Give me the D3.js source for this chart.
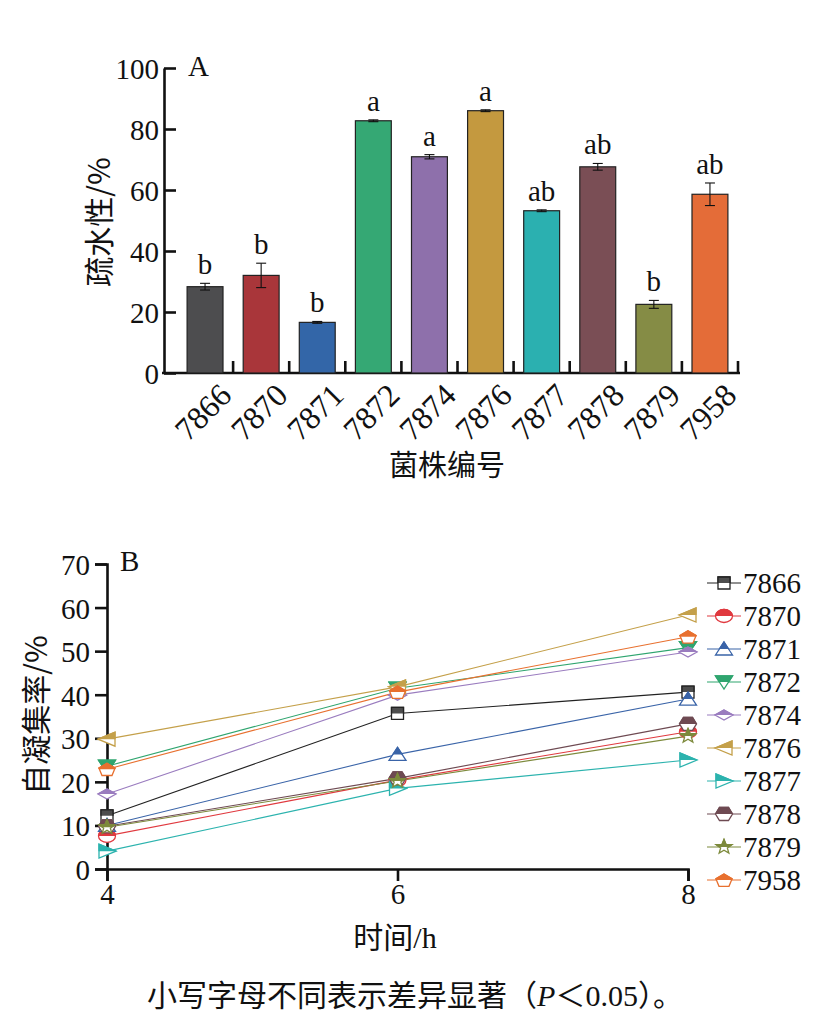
<!DOCTYPE html>
<html lang="zh">
<head>
<meta charset="UTF-8">
<title>疏水性与自凝集率</title>
<script src="https://d3js.org/d3.v7.min.js"></script>
<style>
  body { margin: 0; background: #fff; }
  svg text { font-family: "Liberation Serif", "Noto Sans CJK SC", serif; fill: #111; }
  .cjk { font-family: "Noto Sans CJK SC", sans-serif; }
  .axis path, .axis line { stroke: #111; stroke-width: 2.6; }
  .axis text { font-size: 29px; }
</style>
</head>
<body>
<svg id="chart" width="821" height="1023"></svg>
<script>
// ---- data ----
const strains = ["7866", "7870", "7871", "7872", "7874", "7876", "7877", "7878", "7879", "7958"];
const hydroMean = [28.3, 32.0, 16.6, 82.7, 70.9, 86.0, 53.2, 67.6, 22.5, 58.6];
const hydroErr = [1.1, 4.0, 0.3, 0.3, 0.7, 0.3, 0.3, 1.1, 1.3, 3.7];
const hydroLetters = ["b", "b", "b", "a", "a", "a", "ab", "ab", "b", "ab"];
const hydroTicks = [0, 20, 40, 60, 80, 100];

const hours = [4, 6, 8];
const agg7866 = [12.2, 35.7, 40.6];
const agg7870 = [7.6, 20.4, 31.5];
const agg7871 = [10.0, 26.3, 39.0];
const agg7872 = [23.6, 41.5, 50.8];
const agg7874 = [17.2, 39.9, 49.8];
const agg7876 = [29.8, 41.8, 58.3];
const agg7877 = [4.1, 18.5, 25.0];
const agg7878 = [9.8, 20.8, 33.3];
const agg7879 = [9.6, 20.2, 30.5];
const agg7958 = [22.9, 40.6, 53.3];
const aggTicks = [0, 10, 20, 30, 40, 50, 60, 70];

const aggSeries = [agg7866, agg7870, agg7871, agg7872, agg7874, agg7876, agg7877, agg7878, agg7879, agg7958];

// colours
const barColors = ["#4d4d4f", "#a9363a", "#3366a8", "#35a874", "#8e70ab", "#c4993f", "#2bb0b0", "#7a4e55", "#858c45", "#e46c38"];
const lineColors = ["#222222", "#e0393f", "#3a64a8", "#2fa56f", "#9a7cbf", "#c4a04a", "#2cb3ae", "#6e4a52", "#7d8a3c", "#e8702f"];
const markerFill = ["#4d4d4d", "#e0393f", "#3a64a8", "#2fa56f", "#9a7cbf", "#c4a04a", "#2cb3ae", "#6e4a52", "#7d8a3c", "#e8702f"];

// marker shapes (half width ~8, half height ~6)
function polygon(pts) { return "M" + pts.map(p => p.join(",")).join("L") + "Z"; }
function starPath() {
  const pts = [];
  for (let i = 0; i < 10; i++) {
    const a = -Math.PI / 2 + i * Math.PI / 5;
    const r = i % 2 === 0 ? 7.5 : 3.2;
    pts.push([r * Math.cos(a) * 1.1, r * Math.sin(a)]);
  }
  return polygon(pts);
}
function pentagonPath() {
  const pts = [];
  for (let i = 0; i < 5; i++) {
    const a = -Math.PI / 2 + i * 2 * Math.PI / 5;
    pts.push([8.5 * Math.cos(a), 6.8 * Math.sin(a) + 0.8]);
  }
  return polygon(pts);
}
const shapes = [
  polygon([[-6, -6], [6, -6], [6, 6], [-6, 6]]),
  "M-8.5,0A8.5,6.5 0 1,1 8.5,0A8.5,6.5 0 1,1 -8.5,0Z",
  polygon([[0, -7], [8.5, 6], [-8.5, 6]]),
  polygon([[-8.5, -6], [8.5, -6], [0, 7]]),
  polygon([[0, -5], [9, 0], [0, 5], [-9, 0]]),
  polygon([[-9, 0], [8, -7], [8, 7]]),
  polygon([[9, 0], [-8, -7], [-8, 7]]),
  polygon([[-8.5, 0], [-4.5, -6.5], [4.5, -6.5], [8.5, 0], [4.5, 6.5], [-4.5, 6.5]]),
  starPath(),
  pentagonPath()
];

const svg = d3.select("#chart");
svg.append("defs").append("clipPath").attr("id", "tophalf")
  .append("rect").attr("x", -20).attr("y", -20).attr("width", 40).attr("height", 20);

function drawMarker(g, i) {
  g.append("path").attr("d", shapes[i]).attr("fill", "#fff")
    .attr("stroke", lineColors[i]).attr("stroke-width", 1.3);
  g.append("path").attr("d", shapes[i]).attr("fill", markerFill[i])
    .attr("stroke", lineColors[i]).attr("stroke-width", 1.3)
    .attr("clip-path", "url(#tophalf)");
}

// ================= Panel A =================
const yA = d3.scaleLinear().domain([0, 100]).range([373, 68]);
const xA = d3.scaleBand().domain(strains).range([177, 738]).paddingInner(0.36).paddingOuter(0.18);

const gA = svg.append("g");

gA.append("g").attr("class", "axis").attr("transform", "translate(164,0)")
  .call(d3.axisLeft(yA).tickValues(hydroTicks).tickSizeInner(-12).tickSizeOuter(0).tickPadding(5))
  .call(g => g.selectAll("text").attr("dy", "0.36em"));

// x axis: baseline and ticks at slot boundaries
const step = xA.step();
gA.append("line").attr("x1", 162).attr("x2", 740).attr("y1", yA(0)).attr("y2", yA(0))
  .attr("stroke", "#111").attr("stroke-width", 2.6);
gA.selectAll(".xtick").data(strains).enter().append("line")
  .attr("x1", d => xA(d) + xA.bandwidth() + step * 0.18)
  .attr("x2", d => xA(d) + xA.bandwidth() + step * 0.18)
  .attr("y1", yA(0)).attr("y2", yA(0) - 12)
  .attr("stroke", "#111").attr("stroke-width", 2.6);

gA.selectAll(".bar").data(strains).enter().append("rect")
  .attr("x", d => xA(d))
  .attr("y", (d, i) => yA(hydroMean[i]))
  .attr("width", xA.bandwidth())
  .attr("height", (d, i) => yA(0) - yA(hydroMean[i]))
  .attr("fill", (d, i) => barColors[i])
  .attr("stroke", "#222").attr("stroke-width", 1.2);

// error bars
strains.forEach((d, i) => {
  const cx = xA(d) + xA.bandwidth() / 2;
  const lo = yA(hydroMean[i] - hydroErr[i]), hi = yA(hydroMean[i] + hydroErr[i]);
  const eg = gA.append("g").attr("stroke", "#111").attr("stroke-width", 1.1);
  eg.append("line").attr("x1", cx).attr("x2", cx).attr("y1", lo).attr("y2", hi);
  eg.append("line").attr("x1", cx - 5).attr("x2", cx + 5).attr("y1", lo).attr("y2", lo);
  eg.append("line").attr("x1", cx - 5).attr("x2", cx + 5).attr("y1", hi).attr("y2", hi);
  gA.append("text").attr("x", cx).attr("y", hi - 9)
    .attr("text-anchor", "middle").attr("font-size", 29).text(hydroLetters[i]);
});

// rotated category labels
gA.selectAll(".xlab").data(strains).enter().append("text")
  .attr("font-size", 32).attr("text-anchor", "end")
  .attr("transform", d => `translate(${xA(d) + xA.bandwidth() / 2 + 12},${yA(0) + 8}) rotate(-45)`)
  .attr("dy", "0.72em")
  .text(d => d);

gA.append("text").attr("x", 188).attr("y", 76).attr("font-size", 29).text("A");
gA.append("text").attr("class", "cjk").attr("font-size", 30)
  .attr("transform", "translate(110,222) rotate(-90)").attr("text-anchor", "middle").text("疏水性/%");
gA.append("text").attr("class", "cjk").attr("font-size", 29)
  .attr("x", 447).attr("y", 476).attr("text-anchor", "middle").text("菌株编号");

// ================= Panel B =================
const xB = d3.scaleLinear().domain([4, 8]).range([107, 688]);
const yB = d3.scaleLinear().domain([0, 70]).range([869, 564]);
const gB = svg.append("g");

gB.append("g").attr("class", "axis").attr("transform", `translate(${xB(4)},0)`)
  .call(d3.axisLeft(yB).tickValues(aggTicks).tickSize(12).tickPadding(5))
  .call(g => g.selectAll("text").attr("dy", "0.36em"));
gB.append("g").attr("class", "axis").attr("transform", `translate(0,${yB(0)})`)
  .call(d3.axisBottom(xB).tickValues(hours).tickSize(12).tickPadding(2).tickFormat(d3.format("d")));

const lineGen = d3.line().x((v, j) => xB(hours[j])).y(v => yB(v));
aggSeries.forEach((s, i) => {
  gB.append("path").attr("d", lineGen(s)).attr("fill", "none")
    .attr("stroke", lineColors[i]).attr("stroke-width", 1.1);
});
aggSeries.forEach((s, i) => {
  s.forEach((v, j) => {
    drawMarker(gB.append("g").attr("transform", `translate(${xB(hours[j])},${yB(v)})`), i);
  });
});

// legend
strains.forEach((d, i) => {
  const ly = 583 + i * 33;
  const lg = gB.append("g").attr("transform", `translate(724,${ly})`);
  lg.append("line").attr("x1", -17).attr("x2", 17).attr("stroke", lineColors[i]).attr("stroke-width", 1.1);
  drawMarker(lg, i);
  lg.append("text").attr("x", 19).attr("dy", "0.35em").attr("font-size", 29).text(d);
});

gB.append("text").attr("x", 120).attr("y", 571).attr("font-size", 29).text("B");
gB.append("text").attr("class", "cjk").attr("font-size", 30)
  .attr("transform", "translate(47,715) rotate(-90)").attr("text-anchor", "middle").text("自凝集率/%");
gB.append("text").attr("font-size", 30).attr("x", 395).attr("y", 948).attr("text-anchor", "middle")
  .call(t => { t.append("tspan").attr("class", "cjk").text("时间"); t.append("tspan").text("/h"); });

// caption
const cap = svg.append("text").attr("x", 415).attr("y", 1006).attr("text-anchor", "middle").attr("font-size", 30);
cap.append("tspan").attr("class", "cjk").text("小写字母不同表示差异显著（");
cap.append("tspan").attr("font-style", "italic").text("P");
cap.append("tspan").attr("class", "cjk").text("＜");
cap.append("tspan").text("0.05");
cap.append("tspan").attr("class", "cjk").text("）。");
</script>
</body>
</html>
